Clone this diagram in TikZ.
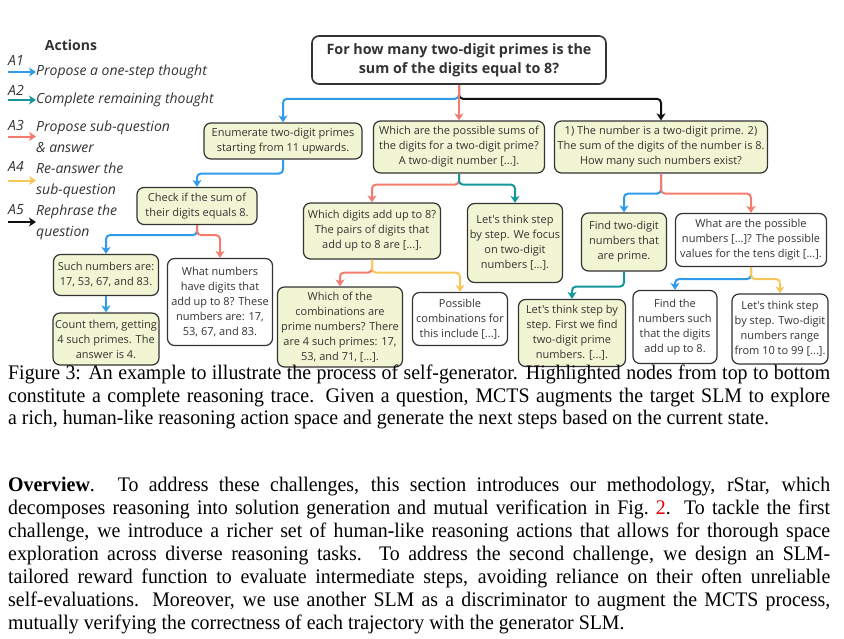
\documentclass[tikz,border=0pt]{standalone}
\usepackage{fontspec}
\setmainfont[FakeStretch=0.96]{Liberation Serif}
\newfontfamily\boxfont{Open Sans}
\usetikzlibrary{arrows.meta}
\definecolor{boxink}{RGB}{51,51,51}
\definecolor{boxfill}{RGB}{242,245,211}
\definecolor{aone}{RGB}{47,155,234}
\definecolor{atwo}{RGB}{23,151,155}
\definecolor{athree}{RGB}{244,124,110}
\definecolor{afour}{RGB}{246,198,91}
\definecolor{afive}{RGB}{17,17,17}
\definecolor{linkred}{RGB}{230,0,0}

\begin{document}
\begin{tikzpicture}[x=1pt,y=-1pt,
  base/.style={draw=boxink,line width=1.2pt,rounded corners=7pt,align=center,text=boxink,inner sep=2pt,font=\boxfont\fontsize{11}{15}\selectfont},
  trace/.style={base,fill=boxfill},
  alt/.style={base,fill=white},
  sz/.style 2 args={minimum width=#1pt,minimum height=#2pt},
  act/.style={line width=2pt,rounded corners=4pt,-{Stealth[length=7pt,width=9pt,inset=2pt]}},
  legtag/.style={anchor=west,inner sep=0pt,text=boxink,font=\boxfont\itshape\fontsize{14}{16}\selectfont},
  legtxt/.style={anchor=west,align=left,inner sep=0pt,text=boxink,font=\boxfont\itshape\fontsize{14}{21}\selectfont},
  captxt/.style={anchor=north west,inner sep=0pt,text width=822pt,align=justify,font=\fontsize{20.7}{22.6}\selectfont}]
\useasboundingbox (0,0) rectangle (844,638);
\node[base,fill=white,line width=1.6pt,sz={294}{48},font=\boxfont\bfseries\fontsize{14.3}{19}\selectfont] (root) at (459,60) {For how many two-digit primes is the\\sum of the digits equal to 8?};
\node[trace,sz={158}{36}] (enum) at (283,141) {Enumerate two-digit primes\\starting from 11 upwards.};
\node[trace,sz={171}{52}] (sums) at (459,147) {Which are the possible sums of\\the digits for a two-digit prime?\\A two-digit number [...].};
\node[trace,sz={213}{52}] (cond) at (661,147) {1) The number is a two-digit prime. 2)\\The sum of the digits of the number is 8.\\How many such numbers exist?};
\node[trace,sz={120}{37}] (check) at (197,206) {Check if the sum of\\their digits equals 8.};
\node[trace,sz={137}{56}] (digits) at (372,231) {Which digits add up to 8?\\The pairs of digits that\\add up to 8 are [...].};
\node[trace,sz={95}{79}] (focus) at (515,243) {Let's think step\\by step. We focus\\on two-digit\\numbers [...].};
\node[trace,sz={85}{58}] (findp) at (624,242) {Find two-digit\\numbers that\\are prime.};
\node[alt,sz={151}{53}] (possnum) at (751,240) {What are the possible\\numbers [...]? The possible\\values for the tens digit [...].};
\node[trace,sz={105}{41}] (such) at (106,275) {Such numbers are:\\17, 53, 67, and 83.};
\node[alt,sz={105}{87}] (whatnum) at (220,302) {What numbers\\have digits that\\add up to 8? These\\numbers are: 17,\\53, 67, and 83.};
\node[trace,sz={105}{52}] (count) at (106,339) {Count them, getting\\4 such primes. The\\answer is 4.};
\node[trace,sz={125}{80}] (whichcomb) at (340,327) {Which of the\\combinations are\\prime numbers? There\\are 4 such primes: 17,\\53, and 71, [...].};
\node[alt,sz={95}{53}] (posscomb) at (460,319) {Possible\\combinations for\\this include [...].};
\node[trace,sz={107}{67}] (first) at (572,333) {Let's think step by\\step. First we find\\two-digit prime\\numbers. [...].};
\node[alt,sz={84}{73}] (findnum) at (675,327) {Find the\\numbers such\\that the digits\\add up to 8.};
\node[alt,sz={96}{70}] (range) at (780,329) {Let's think step\\by step. Two-digit\\numbers range\\from 10 to 99 [...].};
\foreach \u/\v/\c/\d in {root/enum/aone/14,root/cond/afive/14,enum/check/aone/14,sums/digits/athree/11,sums/focus/atwo/11,cond/findp/aone/20,cond/possnum/athree/20,check/such/aone/10,check/whatnum/athree/10,digits/whichcomb/athree/13,digits/posscomb/afour/13,findp/first/atwo/15,possnum/findnum/aone/12,possnum/range/afour/12}
  \draw[act,\c] (\u.south) -- ++(0,\d) -| (\v.north);
\foreach \u/\v/\c in {root/sums/athree,such/count/aone} \draw[act,\c] (\u.south) -- (\v.north);
\node[text=boxink,font=\boxfont\bfseries\fontsize{14}{16}\selectfont] (acts) at (71,45) {Actions};
\foreach \i/\ya/\yt/\c/\t in {1/60/72/aone/{Propose a one-step thought},2/90/100/atwo/{Complete remaining thought},3/125/136.5/athree/{Propose sub-question\\\& answer},4/166/180.5/afour/{Re-answer the\\sub-question},5/210/222/afive/{Rephrase the\\question}}{
  \node[legtag] (tag\i) at (8,\ya) {A\i};
  \node[legtxt] (leg\i) at (36,\yt) {\t};
  \coordinate (src\i) at (8,\yt);
  \draw[act,\c] (src\i) -- (leg\i.west);
}
\node[captxt] (cap) at (8,365) {\hyphenpenalty=10000 Figure 3: An example to illustrate the process of self-generator. Highlighted nodes from top to bottom\linebreak constitute a complete reasoning trace. Given a question, MCTS augments the target SLM to explore\linebreak a rich, human-like reasoning action space and generate the next steps based on the current state.};
\node[captxt,font=\fontsize{20.7}{23}\selectfont] (para) at (8,477) {\hyphenpenalty=10000 \textbf{Overview}. To address these challenges, this section introduces our methodology, rStar, which\linebreak decomposes reasoning into solution generation and mutual verification in Fig.~\textcolor{linkred}{2}. To tackle the first\linebreak challenge, we introduce a richer set of human-like reasoning actions that allows for thorough space\linebreak exploration across diverse reasoning tasks. To address the second challenge, we design an SLM-\linebreak tailored reward function to evaluate intermediate steps, avoiding reliance on their often unreliable\linebreak self-evaluations. Moreover, we use another SLM as a discriminator to augment the MCTS process,\linebreak mutually verifying the correctness of each trajectory with the generator SLM.};
\end{tikzpicture}
\end{document}
